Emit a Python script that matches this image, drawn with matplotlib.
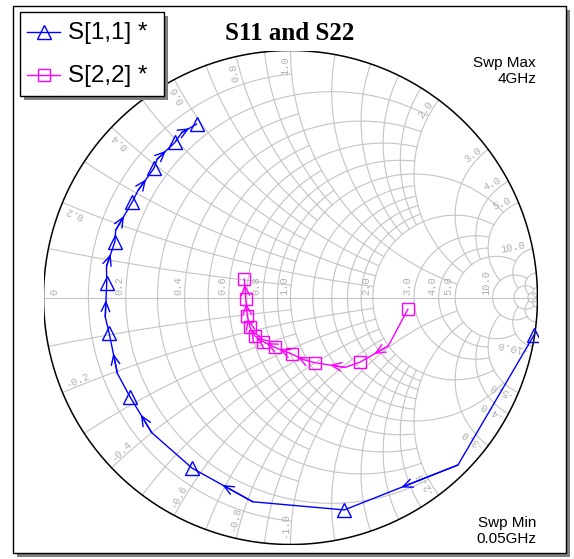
import numpy as np
import matplotlib.pyplot as plt
from matplotlib.patches import Rectangle

W, H = 574, 559

s11_re = [0.986, 0.678, 0.218, -0.153, -0.398, -0.562, -0.650, -0.701, -0.734, -0.750, -0.744,
          -0.745, -0.711, -0.708, -0.640, -0.617, -0.553, -0.540, -0.468, -0.440, -0.380]
s11_im = [-0.152, -0.678, -0.860, -0.827, -0.691, -0.547, -0.402, -0.307, -0.145, -0.078, 0.057,
          0.126, 0.226, 0.272, 0.388, 0.434, 0.523, 0.560, 0.628, 0.668, 0.702]
s22_re = [0.475, 0.396, 0.281, 0.221, 0.099, 0.051, 0.005, -0.030, -0.063, -0.087, -0.110,
          -0.128, -0.144, -0.154, -0.164, -0.170, -0.175, -0.178, -0.181, -0.184, -0.187]
s22_im = [-0.048, -0.196, -0.262, -0.283, -0.264, -0.251, -0.229, -0.215, -0.202, -0.190, -0.179,
          -0.168, -0.156, -0.138, -0.121, -0.097, -0.075, -0.040, -0.007, 0.034, 0.074]

series_names = ["S[1,1] *", "S[2,2] *"]
series_colors = ["#0000ff", "#ff00ff"]
series_markers = ["^", "s"]

# grid values and how far each line runs (r circle -> |x| limit, x arc -> r limit)
grid_vals = [0.1, 0.2, 0.3, 0.4, 0.5, 0.6, 0.7, 0.8, 0.9, 1.0,
             1.2, 1.4, 1.6, 1.8, 2.0, 3.0, 4.0, 5.0, 10.0, 20.0, 50.0]
grid_lim = [1, 2, 1, 2, 1, 2, 1, 2, 1, 5,
            2, 2, 2, 2, 5, 5, 5, 10, 20, 50, 1e6]

axis_r = [0, 0.2, 0.4, 0.6, 0.8, 1.0, 2.0, 3.0, 4.0, 5.0, 10.0]
axis_labels = ["0", "0.2", "0.4", "0.6", "0.8", "1.0", "2.0", "3.0", "4.0", "5.0", "10.0"]
rim_x = [0.2, 0.4, 0.6, 0.8, 1.0, 2.0, 3.0, 4.0, 5.0, 10.0]
rim_labels = ["0.2", "0.4", "0.6", "0.8", "1.0", "2.0", "3.0", "4.0", "5.0", "10.0"]


def z2g(z):
    return (z - 1) / (z + 1)


fig = plt.figure(figsize=(W / 100, H / 100), dpi=100)

# frame with drop shadow
bg = fig.add_axes([0, 0, 1, 1], zorder=0)
bg.set_xlim(0, W)
bg.set_ylim(H, 0)
bg.axis("off")
bg.add_patch(Rectangle((17, 10), 553, 547, facecolor="#808080", edgecolor="none"))
bg.add_patch(Rectangle((13, 6), 553, 547, facecolor="white", edgecolor="black", lw=1))

# smith chart, gamma plane
ax = fig.add_axes([43.5 / W, (H - 544.5) / H, 494 / W, 494 / H], zorder=1)
ax.set_xlim(-1, 1)
ax.set_ylim(-1, 1)
ax.axis("off")

gcol = "#c4c4c4"
for v, lim in zip(grid_vals, grid_lim):
    t = np.linspace(-np.arctan(lim), np.arctan(lim), 800)
    g = z2g(v + 1j * np.tan(t))
    ax.plot(g.real, g.imag, color=gcol, lw=0.8, zorder=1)
    t = np.linspace(0, np.arctan(lim), 800)
    for s in (1, -1):
        g = z2g(np.tan(t) + 1j * s * v)
        ax.plot(g.real, g.imag, color=gcol, lw=0.8, zorder=1)
ax.plot([-1, 1], [0, 0], color=gcol, lw=0.8, zorder=1)
th = np.linspace(0, 2 * np.pi, 1000)
ax.plot(np.cos(th), np.sin(th), color="black", lw=1.1, zorder=2)

lcol = "#b0b0b0"
lfont = dict(family="Liberation Mono", size=7.5, color=lcol)
for r, lab in zip(axis_r, axis_labels):
    gx = max((r - 1) / (r + 1), -0.93)
    ax.text(gx - 0.006, 0.012, lab, rotation=90, rotation_mode="anchor",
            ha="left", va="bottom", **lfont)
for x, lab in zip(rim_x, rim_labels):
    ang = np.arctan2(2 * x, x * x - 1)
    rr = 0.975
    ax.text(rr * np.cos(ang), rr * np.sin(ang), lab, rotation=np.degrees(ang),
            rotation_mode="anchor", ha="right", va="bottom", **lfont)
    ax.text(rr * np.cos(-ang), rr * np.sin(-ang), "-" + lab, rotation=np.degrees(-ang) + 180,
            rotation_mode="anchor", ha="left", va="bottom", **lfont)

for re, im, col, mk in zip([s11_re, s22_re], [s11_im, s22_im], series_colors, series_markers):
    re = np.array(re)
    im = np.array(im)
    ax.plot(re, im, color=col, lw=1, zorder=3)
    ms = 10 if mk == "^" else 9
    ax.plot(re[::2], im[::2], ls="none", marker=mk, ms=ms, mfc="none", mec=col, mew=1, zorder=4)
    for i in range(1, len(re) - 1, 2):
        mx = (re[i] + re[i + 1]) / 2
        my = (im[i] + im[i + 1]) / 2
        ax.annotate("", xy=(mx, my), xytext=(re[i], im[i]),
                    arrowprops=dict(arrowstyle="->,head_length=0.5,head_width=0.22",
                                    color=col, lw=1, shrinkA=0, shrinkB=0, mutation_scale=14),
                    zorder=3)

# overlay: title, legend, sweep notes
ov = fig.add_axes([0, 0, 1, 1], zorder=2)
ov.set_xlim(0, W)
ov.set_ylim(H, 0)
ov.axis("off")
ov.patch.set_alpha(0)

ov.text(290, 40, "S11 and S22", family="Liberation Serif", weight="bold", size=18,
        ha="center", va="baseline")

ov.add_patch(Rectangle((24, 16), 144, 84, facecolor="#808080", edgecolor="none"))
ov.add_patch(Rectangle((20, 12), 144, 84, facecolor="white", edgecolor="black", lw=1))
for k, (name, col, mk) in enumerate(zip(series_names, series_colors, series_markers)):
    y = 32 + k * 43
    ov.plot([27, 60], [y, y], color=col, lw=1)
    ov.plot([43.5], [y], ls="none", marker=mk, ms=10 if mk == "^" else 9,
            mfc="none", mec=col, mew=1)
    ov.text(68, y + 1, name, family="Liberation Sans", size=17.5, ha="left", va="center")

nfont = dict(family="Liberation Sans", size=11, ha="right", va="baseline")
ov.text(536, 67, "Swp Max", **nfont)
ov.text(536, 83, "4GHz", **nfont)
ov.text(536, 527, "Swp Min", **nfont)
ov.text(536, 543, "0.05GHz", **nfont)

fig.savefig("out.png", dpi=100, facecolor="white")
